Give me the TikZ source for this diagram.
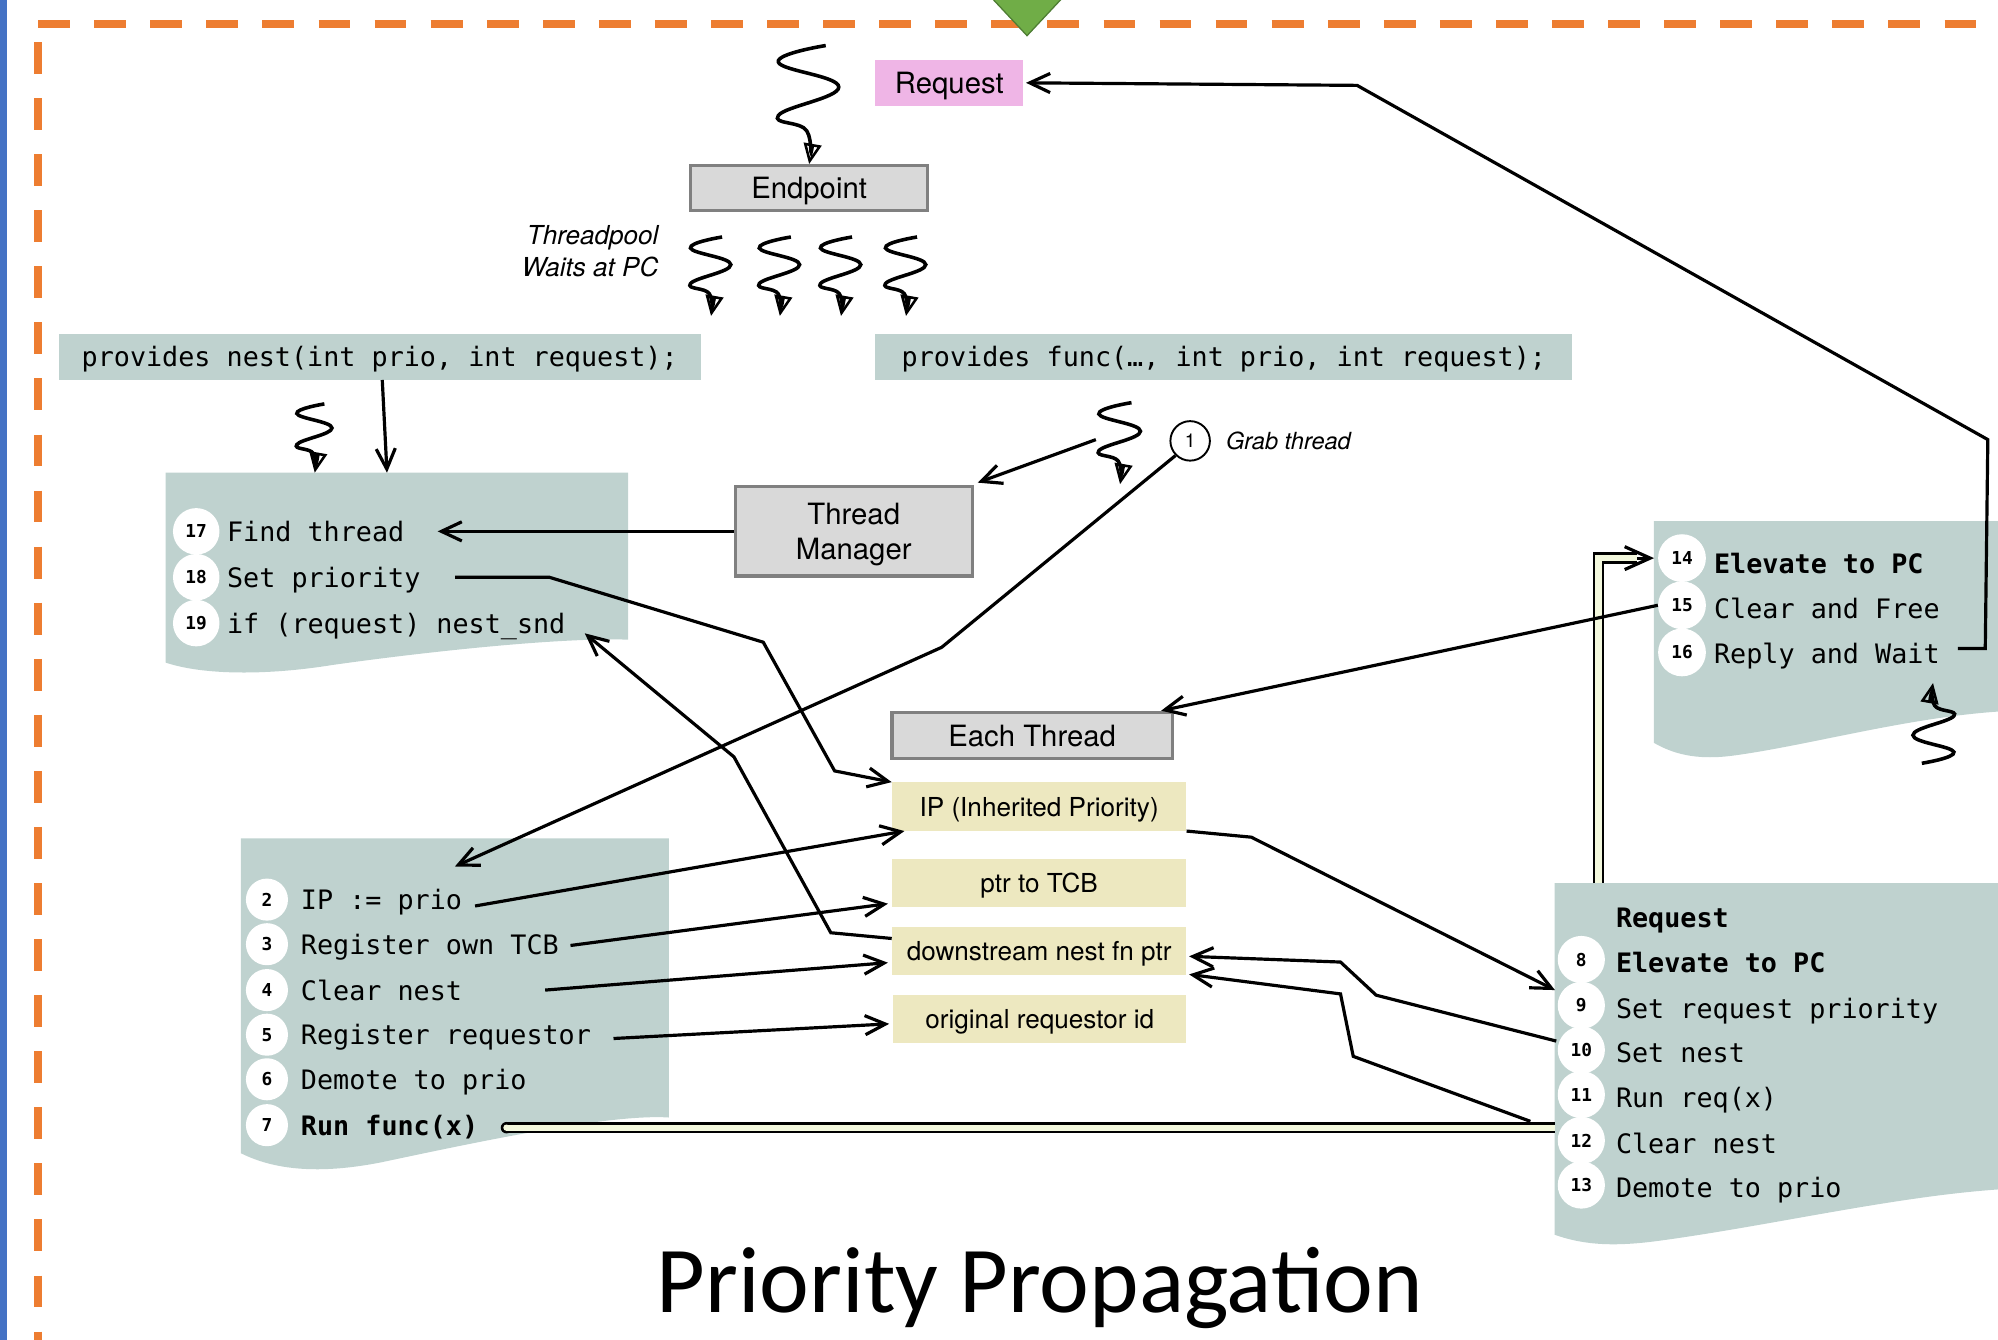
\documentclass[tikz,border=0pt]{standalone}
\usepackage{fontspec}
\setmainfont{TeX Gyre Heros}
\setmonofont{DejaVu Sans Mono}
\newfontfamily\titlefont{Carlito}
\usetikzlibrary{arrows.meta,calc}
\pgfdeclarelayer{pipes}
\pgfdeclarelayer{sheets}
\pgfsetlayers{sheets,pipes,main}

\definecolor{sheet}{HTML}{BFD2CF}
\definecolor{field}{HTML}{EDE8C0}
\definecolor{boxgray}{HTML}{D9D9D9}
\definecolor{boxedge}{HTML}{808080}
\definecolor{reqpink}{HTML}{EFB5E6}
\definecolor{frameorange}{HTML}{ED7D31}
\definecolor{frameblue}{HTML}{4472C4}
\definecolor{apexgreen}{HTML}{70AD47}
\definecolor{apexdark}{HTML}{4E7D33}
\definecolor{pipefill}{HTML}{F3F8DD}

\newcommand{\setfs}[2]{\fontsize{#1}{#2}\selectfont}

\begin{document}
\begin{tikzpicture}[x=1pt,y=-1pt,
  conn/.style={line width=2.5pt,line join=miter,-{Straight Barb[length=16pt,width=15pt]}},
  squigline/.style={line width=2.8pt,-{Triangle[open,length=16pt,width=14pt,line width=2pt]}},
  squig/.pic={\draw[squigline] plot[smooth,tension=0.75] coordinates
      {(0.14,-1) (-0.26,-0.86) (0.25,-0.65) (-0.26,-0.41) (-0.02,-0.28) (0,0)};},
  graybox/.style={draw=boxedge,line width=2.5pt,fill=boxgray,inner sep=0pt,
      font=\setfs{23}{27},align=center,text height=17pt,text depth=0pt},
  fieldbox/.style={fill=field,inner sep=0pt,minimum width=231pt,minimum height=38pt,
      font=\setfs{20.5}{24},text height=15pt,text depth=0pt},
  sig/.style={fill=sheet,inner sep=0pt,minimum height=36pt,font=\ttfamily\setfs{21}{25},
      text height=15.5pt,text depth=0pt},
  li/.style={anchor=west,inner sep=0pt,text height=16pt,text depth=0pt,
      font=\ttfamily\setfs{21}{25}},
  lib/.style={li,font=\ttfamily\bfseries\setfs{21}{25}},
  num/.style={circle,fill=white,inner sep=0pt,minimum size=#1,
      font=\ttfamily\bfseries\setfs{14}{14}},
  num/.default=36pt,
  sheetbox/.style={inner sep=0pt,anchor=north west},
  pipeout/.style={line width=9pt,black},
  pipein/.style={line width=5pt,pipefill},
]
\useasboundingbox (0,0) rectangle (1568,1051);

% frame of the component
\fill[frameblue] (0,-5) rectangle (5.5,1060);
\draw[frameorange,line width=6pt,dash pattern=on 25pt off 19pt] (30,19) -- (1580,19);
\draw[frameorange,line width=6pt,dash pattern=on 25pt off 19pt] (30,33) -- (30,1060);
\filldraw[fill=apexgreen,draw=apexdark,line width=1pt] (777,-3) -- (835,-3) -- (806,28) -- cycle;

% sheet outlines (named areas)
\node[sheetbox,minimum width=363pt,minimum height=149pt] (docA) at (130,371) {};
\node[sheetbox,minimum width=336pt,minimum height=247pt] (docB) at (189,658) {};
\node[sheetbox,minimum width=277pt,minimum height=174pt] (docC) at (1298,409) {};
\node[sheetbox,minimum width=355pt,minimum height=276pt] (docD) at (1220,693) {};

\begin{pgfonlayer}{sheets}
\fill[sheet] (130,371) -- (493,371) -- (493,502)
  .. controls (440,500) and (330,512) .. (260,522)
  .. controls (210,530) and (160,530) .. (130,520) -- cycle;
\fill[sheet] (189,658) -- (525,658) -- (525,877)
  .. controls (480,874) and (380,895) .. (300,912)
  .. controls (250,922) and (215,918) .. (189,905) -- cycle;
\fill[sheet] (1298,409) -- (1575,409) -- (1575,558)
  .. controls (1500,562) and (1420,585) .. (1360,593)
  .. controls (1330,597) and (1312,591) .. (1298,583) -- cycle;
\fill[sheet] (1220,693) -- (1575,693) -- (1575,933)
  .. controls (1490,938) and (1390,962) .. (1300,974)
  .. controls (1262,979) and (1240,976) .. (1220,969) -- cycle;
\end{pgfonlayer}

% boxes
\node[fill=reqpink,minimum width=116pt,minimum height=36pt,inner sep=0pt,font=\setfs{23}{27},
  text height=17pt,text depth=0pt] (request) at (745,65) {Request};
\node[graybox,minimum width=186pt,minimum height=35pt] (endpoint) at (635,147.5) {Endpoint};
\node[anchor=east,align=right,inner sep=0pt,font=\itshape\setfs{20.5}{25}]
  (pool) at (517,197) {Threadpool\\Waits at PC};
\node[sig,minimum width=504pt] (pnest) at (298,280) {provides nest(int prio, int request);};
\node[sig,minimum width=547pt] (pfunc) at (960.5,280) {provides func(…, int prio, int request);};
\node[graybox,minimum width=186pt,minimum height=70pt,text height=44pt,text depth=0pt]
  (tm) at (670,417) {Thread\\Manager};
\node[graybox,minimum width=220pt,minimum height=36pt] (each) at (810,577) {Each Thread};
\node[fieldbox] (ipbox) at (815.5,633) {IP (Inherited Priority)};
\node[fieldbox] (tcb) at (815.5,693) {ptr to TCB};
\node[fieldbox] (dnest) at (815.5,746.5) {downstream nest fn ptr};
\node[fieldbox,minimum width=230pt] (orig) at (816,799.5) {original requestor id};

% step 1
\node[circle,draw,line width=1.5pt,fill=white,minimum size=31pt,inner sep=0pt,
  font=\setfs{15}{15}] (c1) at (934,346) {1};
\node[anchor=west,inner sep=0pt,font=\itshape\setfs{18.5}{20}] (grablbl) at (962,346) {Grab thread};

% nest handler
\node[num=36.5pt] (c17) at (154,417) {17};
\node[li] (findthr) at (178,417) {Find thread};
\node[num=36.5pt] (c18) at (154,453) {18};
\node[li] (setprio) at (178,453) {Set priority};
\node[num=36.5pt] (c19) at (154,489) {19};
\node[li] (ifreq) at (178,489) {if (request) nest\_snd};

% thread body
\node[num=33pt] (c2) at (209.5,706) {2};
\node[li] (ipprio) at (236,706) {IP := prio};
\node[num=33pt] (c3) at (209.5,741) {3};
\node[li] (regtcb) at (236,741) {Register own TCB};
\node[num=33pt] (c4) at (209.5,777) {4};
\node[li] (clrnest) at (236,777) {Clear nest};
\node[num=33pt] (c5) at (209.5,812) {5};
\node[li] (regreq) at (236,812) {Register requestor};
\node[num=33pt] (c6) at (209.5,847) {6};
\node[li] (demote) at (236,847) {Demote to prio};
\node[num=33pt] (c7) at (209.5,883) {7};
\node[lib] (runfunc) at (236,883) {Run func(x)};

% completion
\node[num=37.5pt] (c14) at (1320,438) {14};
\node[lib] (elev) at (1345,442) {Elevate to PC};
\node[num=37.5pt] (c15) at (1320,475) {15};
\node[li] (clrfree) at (1345,477) {Clear and Free};
\node[num=37.5pt] (c16) at (1320,512) {16};
\node[li] (reply) at (1345,513) {Reply and Wait};

% nested request
\node[lib] (reqhdr) at (1268,720) {Request};
\node[num=37pt] (c8) at (1241,753) {8};
\node[lib] (elevreq) at (1268,755) {Elevate to PC};
\node[num=37pt] (c9) at (1241,789) {9};
\node[li] (setreq) at (1268,791) {Set request priority};
\node[num=37pt] (c10) at (1241,824) {10};
\node[li] (setnest) at (1268,826) {Set nest};
\node[num=37pt] (c11) at (1241,859) {11};
\node[li] (runreq) at (1268,861) {Run req(x)};
\node[num=37pt] (c12) at (1241,895) {12};
\node[li] (clrnest2) at (1268,897) {Clear nest};
\node[num=37pt] (c13) at (1241,930) {13};
\node[li] (demote2) at (1268,932) {Demote to prio};

% title
\node[anchor=base,inner sep=0pt,font=\titlefont\setfs{74}{80}] (title) at (816,1030) {Priority Propagation};

% control-flow pipes: run func(x) -> nested request -> elevate
\begin{pgfonlayer}{pipes}
\coordinate (pipeA) at ([shift={(22,2)}]runfunc.east);
\coordinate (pipeB) at ($(runfunc.east -| docD.west)+(0,2)$);
\fill[black] (pipeA) circle[radius=4.5pt];
\draw[pipeout] (pipeA) -- (pipeB);
\fill[pipefill] (pipeA) circle[radius=2.5pt];
\draw[pipein] (pipeA) -- (pipeB);
\path (docD.north west) ++(34.5,0) coordinate (pipe0);
\draw[pipeout] (pipe0) |- ([xshift=-16pt]c14.west);
\draw[pipein] (pipe0) |- ([xshift=-16pt]c14.west);
\end{pgfonlayer}
\draw[line width=2.5pt,-{Straight Barb[length=20pt,width=18pt]}]
  ([xshift=-16pt]c14.west) -- ([xshift=-3pt]c14.west);

% threads
\pic[scale=93] at (endpoint.north) {squig};
\foreach \tx in {558,612,660,711} \pic[scale=62] at (\tx,248) {squig};
\pic[scale=54] at ([xshift=117pt]docA.north west) {squig};
\pic[scale=64] at (879,380) {squig};
\pic[rotate=180,scale=63] at (1517,536) {squig};

% connectors
\draw[conn] ([xshift=2pt]pnest.south) -- ([xshift=-8pt]docA.north);
\draw[conn] (tm.west) -- ([xshift=26pt]findthr.east);
\coordinate (grabsrc) at (860,345);
\draw[conn] (grabsrc) -- ([shift={(3,-2)}]tm.north east);
\coordinate (ipdrop) at (357,680);
\draw[conn] (c1.south west) -- (739,508) -- (ipdrop);
\draw[conn] ([xshift=27pt]setprio.east) -- (431,453) -- (599,504) -- (655,605) -- (ipbox.north west);
\draw[conn] ([shift={(10,5)}]ipprio.east) -- ([xshift=10pt]ipbox.south west);
\draw[conn] ([shift={(9,1)}]regtcb.east) -- ([shift={(-3,-3)}]tcb.south west);
\draw[conn] ([xshift=65pt]clrnest.east) -- ([shift={(-3,9)}]dnest.west);
\draw[conn] ([shift={(17.5,3)}]regreq.east) -- ([shift={(-3,4)}]orig.west);
\draw[conn] ([shift={(0,-10)}]dnest.west) -- (652,732) -- (576,594) -- ([shift={(15,8)}]ifreq.east);
\draw[conn] (ipbox.south east) -- (982,657) -- ([shift={(-2,24)}]c8.west);
\draw[conn] ([shift={(-1,-7)}]c10.west) -- (1080,781) -- (1052,755) -- ([shift={(2,4)}]dnest.east);
\coordinate (runjoin) at (1201,880);
\draw[conn] (runjoin) -- (1062,829) -- (1052,780) -- ([shift={(2,-1)}]dnest.south east);
\draw[conn] (c15.west) -- ([xshift=-10pt]each.north east);
\draw[conn] ([shift={(14,-4)}]reply.east) -- (1558,509) -- (1560,345) -- (1065,67) -- ([xshift=2pt]request.east);
\end{tikzpicture}
\end{document}
